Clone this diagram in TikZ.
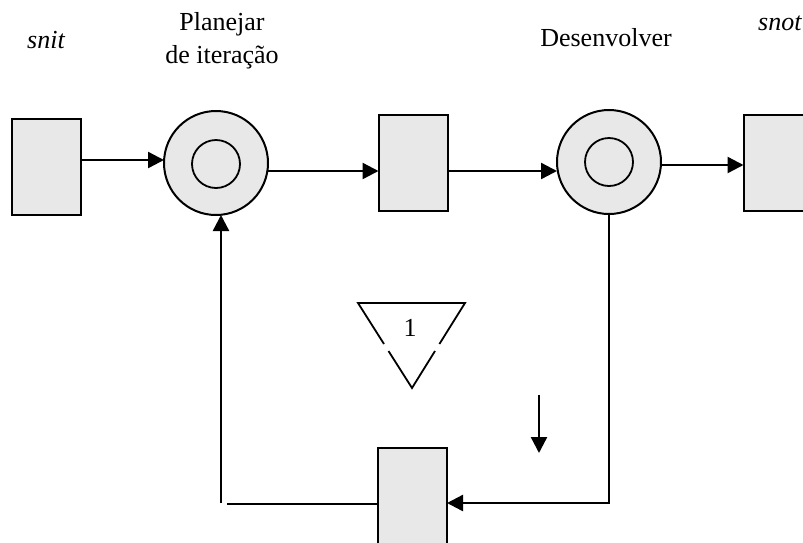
\documentclass[tikz,border=0pt]{standalone}
\usepackage{fontspec}
\setmainfont{Liberation Serif}
\usetikzlibrary{arrows.meta}
\definecolor{boxgray}{HTML}{E8E8E8}
\tikzset{
  store/.style={draw=black, fill=boxgray, line width=2pt, minimum width=69pt, minimum height=96pt, inner sep=0pt, outer sep=0pt},
  activity/.style={draw=black, fill=boxgray, circle, line width=2pt, minimum size=104pt, inner sep=0pt, outer sep=0pt},
  innerring/.style={draw=black, circle, line width=1.8pt, minimum size=48pt, inner sep=0pt},
  conn/.style={line width=2.4pt},
  arr/.style={conn, -{Triangle[length=16pt,width=16pt]}},
  lbl/.style={inner sep=0pt, font=\fontsize{26}{33}\selectfont}
}
\begin{document}
\begin{tikzpicture}[x=1pt,y=-1pt]
\useasboundingbox (0,0) rectangle (803,542);
\clip (0,0) rectangle (803,542);
% labels
\node[lbl, anchor=base west] (snit) at (27,48) {\itshape snit};
\node[lbl, anchor=north, align=center] (plan) at (222,12) {Planejar\\de iteração};
\node[lbl, anchor=base] (desv) at (606,46) {Desenvolver};
\node[lbl, anchor=base west] (snot) at (758,30) {\itshape snot};
% places
\node[store] (b1) at (46.5,167) {};
\node[store] (b2) at (413,163) {};
\node[store] (b3) at (778,162.5) {};
\node[store] (b4) at (412.5,496) {};
% activities
\node[activity] (c1) at (216,163) {};
\node[innerring] (i1) at (216,164) {};
\node[activity] (c2) at (609,162) {};
\node[innerring] (i2) at (609,162) {};
% connectors
\draw[arr] (b1.east|-0,160) -- (c1.west|-0,160);
\draw[arr] (c1.east|-0,171) -- (b2.west|-0,171);
\draw[arr] (b2.east|-0,171) -- (c2.west|-0,171);
\draw[arr] (c2.east|-0,165) -- (b3.west|-0,165);
\coordinate (corner) at (609,503);
\draw[arr] (c2.south) -- (corner) -- (b4.east|-corner);
\coordinate (fbstart) at (227,504);
\draw[conn] (b4.west|-fbstart) -- (fbstart);
\coordinate (fbup) at (221,503);
\draw[arr] (fbup) -- (fbup|-c1.south);
\coordinate (sa) at (539,395);
\draw[arr] (sa) -- ++(0,58);
% triangle with label
\node[lbl, anchor=base] (one) at (410,336) {1};
\draw[line width=1.8pt] (384,344) -- (358,303) -- (465,303) -- (439.4,344);
\draw[line width=1.8pt] (388.5,351) -- (412,388) -- (435,351);
\end{tikzpicture}
\end{document}
